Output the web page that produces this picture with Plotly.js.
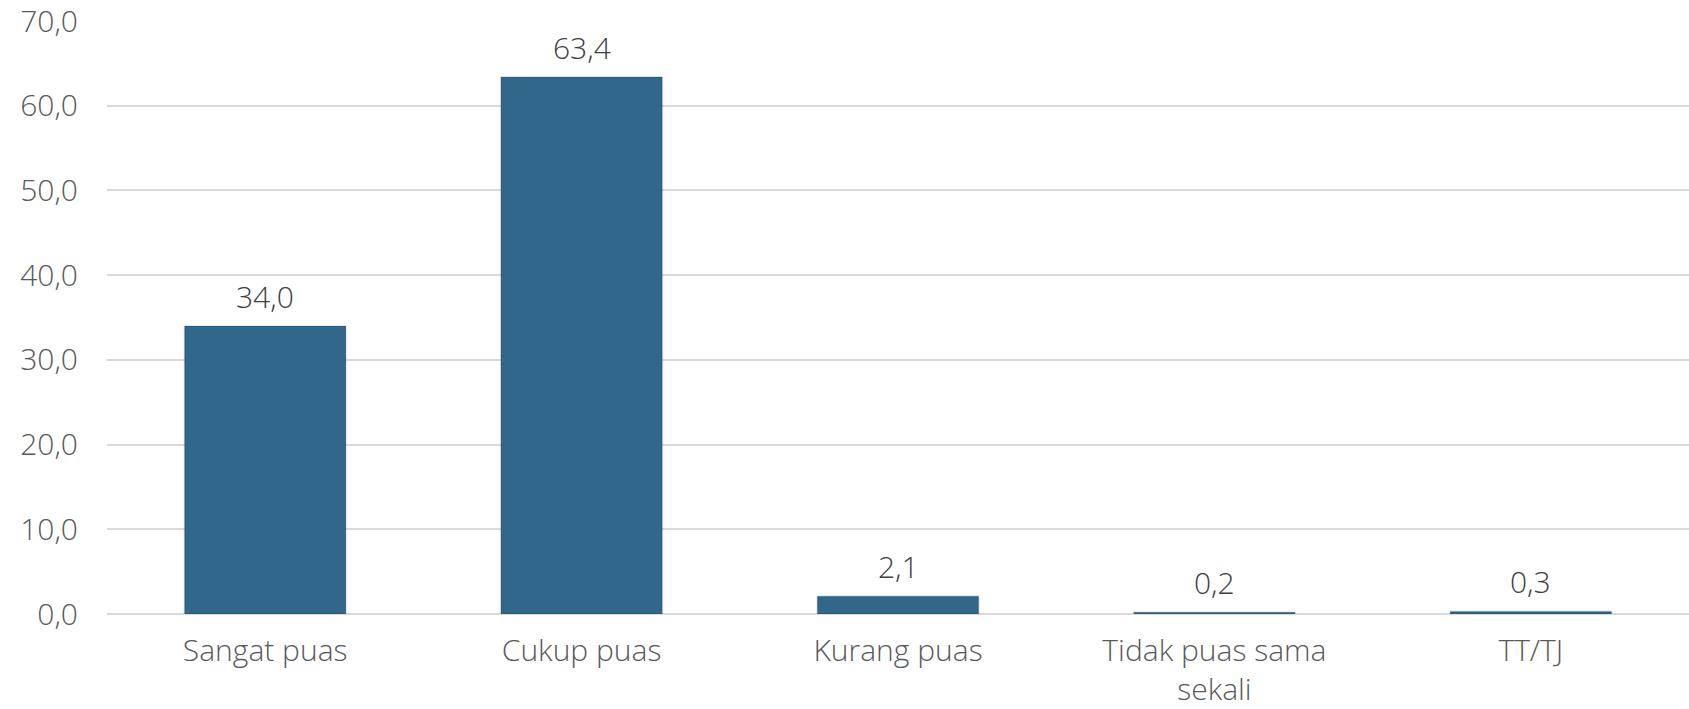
<!DOCTYPE html>
<html>
<head>
<meta charset="utf-8">
<script src="https://cdn.plot.ly/plotly-3.0.1.min.js"></script>
<style>html,body{margin:0;padding:0;background:#fff;}#chart{width:1689px;height:709px;}</style>
</head>
<body>
<div id="chart"></div>
<script>
const categories = ["Sangat puas", "Cukup puas", "Kurang puas", "Tidak puas sama<br>sekali", "TT/TJ"];
const values = [34.0, 63.4, 2.1, 0.2, 0.3];
const tickVals = [0, 10, 20, 30, 40, 50, 60, 70];

const FONT = "'Open Sans', Lato, sans-serif";
const FSIZE = 30;

const trace = {
  type: "bar",
  x: categories,
  y: values,
  marker: { color: "#31678A", line: { color: "rgba(0,0,0,0.10)", width: 2 } },
  cliponaxis: false,
  hoverinfo: "skip"
};

const annotations = categories.map((c, i) => ({
  x: c,
  y: values[i],
  xref: "x",
  yref: "y",
  text: values[i].toFixed(1).replace(".", ","),
  showarrow: false,
  yanchor: "bottom",
  yshift: 7,
  font: { family: FONT, size: FSIZE, color: "#404040", weight: 300 }
}));

const layout = {
  width: 1689,
  height: 709,
  margin: { l: 107, r: 0, t: 21, b: 95 },
  paper_bgcolor: "#ffffff",
  plot_bgcolor: "#ffffff",
  separators: ",.",
  bargap: 0.49,
  showlegend: false,
  annotations: annotations,
  font: { family: FONT, size: FSIZE, color: "#595959", weight: 300 },
  xaxis: {
    type: "category",
    showgrid: false,
    showline: false,
    zeroline: false,
    ticks: "",
    ticklabelstandoff: 16,
    ticklabeloverflow: "allow",
    tickfont: { family: FONT, size: FSIZE, color: "#595959", weight: 300 },
    automargin: false
  },
  yaxis: {
    range: [0, 70],
    tickvals: tickVals,
    tickformat: ".1f",
    showgrid: true,
    gridcolor: "#d9d9d9",
    gridwidth: 2,
    zeroline: true,
    zerolinecolor: "#d9d9d9",
    zerolinewidth: 2,
    showline: false,
    ticks: "",
    ticklabelstandoff: 28,
    ticklabeloverflow: "allow",
    tickfont: { family: FONT, size: FSIZE, color: "#595959", weight: 300 },
    automargin: false
  }
};

Plotly.newPlot("chart", [trace], layout, { staticPlot: true, displayModeBar: false });
</script>
</body>
</html>
